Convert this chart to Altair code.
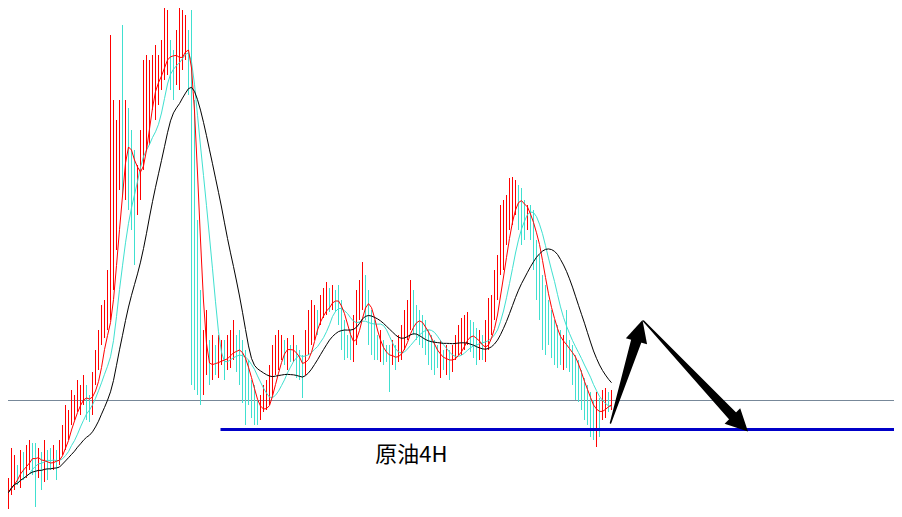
import altair as alt
import pandas as pd

# ---- price bars (index units; prices in chart units) ----
closes = [17,25,32,42,47,39,55,52,59,65,61,55,57,47,62,55,49,59,54,67,
          77,87,97,107,112,119,122,125,117,107,129,152,172,187,197,199,217,287,357,377,
          367,382,367,342,327,332,357,397,422,432,437,439,442,455,472,477,455,447,457,462,
          477,482,457,367,247,167,147,152,155,149,159,152,157,162,155,165,167,172,169,162,
          152,139,127,117,107,99,105,112,119,122,147,162,169,172,165,169,162,167,157,145,
          137,167,182,192,199,195,207,212,217,215,219,217,212,192,177,167,165,177,202,222,
          227,217,199,182,172,165,167,162,159,157,162,159,165,172,182,195,202,197,195,192,
          187,179,172,165,162,157,159,155,159,155,157,165,172,177,182,187,182,177,165,169,167,
          172,187,199,217,235,267,282,297,312,317,327,319,307,295,302,292,277,255,237,222,
          207,195,187,182,172,167,172,169,162,152,145,137,127,117,112,105,99,107,105,112,115,112,117]
highs = [37,47,39,69,62,52,67,65,72,77,74,74,69,65,77,67,69,72,67,77,
         92,112,107,127,122,137,132,142,132,122,145,167,187,212,217,247,482,417,397,417,
         492,417,409,387,367,352,387,457,462,457,462,472,462,477,517,507,477,467,487,517,
         507,502,487,507,417,297,227,187,207,177,182,172,182,177,177,182,187,197,182,187,
         177,167,157,137,132,117,122,132,137,152,172,182,187,182,177,179,172,182,172,167,
         162,187,207,217,212,207,222,229,235,229,232,227,232,217,197,182,187,202,227,237,
         255,242,227,207,197,182,187,177,172,172,177,172,182,192,207,217,237,227,212,207,
         202,197,187,182,177,172,177,167,172,167,172,182,192,199,202,205,197,195,189,187,182,
         197,219,222,247,262,312,317,322,339,340,337,332,329,317,312,312,307,277,262,242,
         232,217,207,197,192,187,182,207,177,172,162,157,147,139,132,125,117,125,119,127,129,125,127]
lows = [0,0,7,22,27,32,29,37,39,47,42,10,39,27,35,37,47,47,37,52,
        62,67,77,92,97,105,102,112,97,95,102,132,147,172,179,187,197,227,267,327,
        322,317,307,287,252,302,317,347,367,372,407,397,412,427,437,442,427,417,432,427,
        447,457,422,132,127,122,112,122,142,132,137,142,139,152,137,147,149,157,145,132,
        114,92,112,99,92,92,97,105,107,112,122,142,147,157,152,147,155,155,139,137,
        119,142,162,172,177,182,192,199,202,205,207,205,192,167,157,159,157,155,172,197,
        207,197,172,162,157,157,155,152,155,125,152,147,155,157,167,177,187,182,177,172,
        169,162,152,147,142,149,139,147,142,137,145,157,162,162,167,172,165,159,152,157,157,
        155,167,182,197,217,242,247,272,287,292,302,287,272,277,287,277,247,217,197,167,
        162,172,159,152,149,152,147,149,145,132,117,115,107,97,92,80,77,70,80,97,99,105,107]

assert len(closes) == len(highs) == len(lows) == 204

# ---- annotation levels / label ----
grey_level = 116.5
support_level = 87.5
support_start = 72.67
label_text = "原油4H"
label_pos = (136.3, 62)

# arrows: shafts (tail -> head base) and heads
arrow_shaft_arrow = ["a1", "a1", "a2", "a2"]
arrow_shaft_idx = [202.67, 211.67, 213.67, 244.33]
arrow_shaft_price = [94, 180, 196, 98]
arrow_shaft_width = [1.5, 11, 1.5, 10]
arrow_shaft_order = [0, 1, 0, 1]
arrow_head_idx = [212.33, 245.9]
arrow_head_price = [186.4, 93.3]
arrow_head_angle = [16, 135]

XMIN, XMAX = 1.8333, 297.1667
YMIN, YMAX = 8, 509

df = pd.DataFrame({"idx": list(range(len(closes))), "close": closes,
                   "high": highs, "low": lows})
prev = [closes[0]] + closes[:-1]
df["dir"] = ["up" if c >= p else "down" for c, p in zip(closes, prev)]

xs = alt.Scale(domain=[XMIN, XMAX], nice=False, zero=False)
ys = alt.Scale(domain=[YMIN, YMAX], nice=False, zero=False)

base = alt.Chart(df)

bars = base.mark_rule(strokeWidth=1, clip=True).encode(
    x=alt.X("idx:Q", scale=xs, axis=None),
    y=alt.Y("low:Q", scale=ys, axis=None),
    y2="high:Q",
    color=alt.Color("dir:N", scale=alt.Scale(domain=["up", "down"],
                                             range=["#ff0000", "#40e0d0"]), legend=None),
)

def ma(n, color):
    return base.transform_window(
        ma="mean(close)", frame=[-(n - 1), 0], sort=[alt.SortField("idx")]
    ).mark_line(color=color, strokeWidth=1, clip=True).encode(
        x=alt.X("idx:Q", scale=xs, axis=None),
        y=alt.Y("ma:Q", scale=ys, axis=None),
    )

ma10 = ma(10, "#40e0d0")
ma5 = ma(5, "#ff0000")
ma20 = ma(20, "#000000")

grey = alt.Chart(pd.DataFrame({"p": [grey_level]})).mark_rule(
    color="#778899", strokeWidth=1).encode(y=alt.Y("p:Q", scale=ys, axis=None))

blue = alt.Chart(pd.DataFrame({"x1": [support_start], "x2": [XMAX], "p": [support_level]})).mark_rule(
    color="#0000c8", strokeWidth=3, clip=True).encode(
    x=alt.X("x1:Q", scale=xs, axis=None), x2="x2:Q",
    y=alt.Y("p:Q", scale=ys, axis=None))

label = alt.Chart(pd.DataFrame({"x": [label_pos[0]], "p": [label_pos[1]], "t": [label_text]})).mark_text(
    font="Noto Sans CJK SC", fontSize=22, align="center", baseline="middle", color="black").encode(
    x=alt.X("x:Q", scale=xs, axis=None), y=alt.Y("p:Q", scale=ys, axis=None), text="t:N")

shafts = alt.Chart(pd.DataFrame({"a": arrow_shaft_arrow, "x": arrow_shaft_idx,
                                 "p": arrow_shaft_price, "w": arrow_shaft_width,
                                 "o": arrow_shaft_order})).mark_trail(color="black").encode(
    x=alt.X("x:Q", scale=xs, axis=None), y=alt.Y("p:Q", scale=ys, axis=None),
    size=alt.Size("w:Q", scale=None), detail="a:N", order="o:Q")

heads = alt.Chart(pd.DataFrame({"x": arrow_head_idx, "p": arrow_head_price,
                                "ang": arrow_head_angle})).mark_point(
    shape="M0,-1L1,1L-1,1Z", filled=True, size=484, color="black", opacity=1).encode(
    x=alt.X("x:Q", scale=xs, axis=None), y=alt.Y("p:Q", scale=ys, axis=None),
    angle=alt.Angle("ang:Q", scale=None))

chart = alt.layer(grey, bars, ma10, ma5, ma20, blue, label, shafts, heads).properties(
    width=886, height=501, padding=0, autosize="none", background="white"
).configure_view(strokeWidth=0)

chart.save("out.html", embed_options={"renderer": "svg", "actions": False})
